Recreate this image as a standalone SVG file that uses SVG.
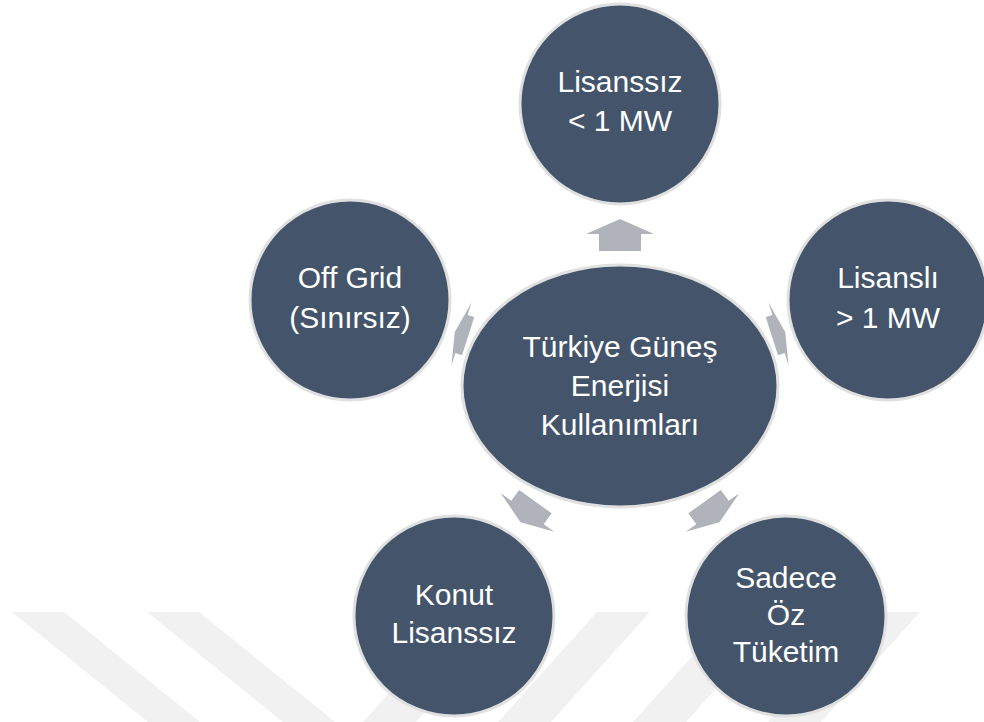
<svg xmlns="http://www.w3.org/2000/svg" width="984" height="722" viewBox="0 0 984 722">
<style>
.node{fill:#44546A;stroke:#E0E0E0;stroke-width:3}
.lbl{fill:#FFFFFF;font-family:"Liberation Sans",Arial,sans-serif;font-size:30px;text-anchor:middle}
.arw{fill:#B0B3BA}
.wm{fill:#F1F1F1}
</style>
<rect x="0" y="0" width="984" height="722" fill="#FFFFFF"/>
<g id="watermark">
<polygon class="wm" points="12,612 64,612 200,722 148,722"/>
<polygon class="wm" points="147,612 199,612 335,722 283,722"/>
<polygon class="wm" points="462,612 515,612 416,722 363,722"/>
<polygon class="wm" points="597,612 650,612 551,722 498,722"/>
<polygon class="wm" points="732,612 785,612 686,722 633,722"/>
<polygon class="wm" points="867,612 920,612 821,722 768,722"/>
</g>
<g id="connectors">
<polygon class="arw" points="599,251 599,234 586,234 620,219 654,234 641,234 641,251"/>
<polygon class="arw" points="765.7,317.1 772.4,315 768.4,302.6 785.2,331.9 788.6,365.4 784.6,353 778,355.2"/>
<polygon class="arw" points="474.3,317.1 467.6,315 471.6,302.6 454.8,331.9 451.4,365.4 455.4,353 462,355.2"/>
<polygon class="arw" points="519.2,489.9 511.3,500.8 500.7,493.2 520.5,522.2 554.3,531.8 543.7,524.2 551.6,513.3"/>
<polygon class="arw" points="720.8,489.9 728.7,500.8 739.3,493.2 719.5,522.2 685.7,531.8 696.3,524.2 688.4,513.3"/>
</g>
<g id="center">
<ellipse class="node" cx="620" cy="386" rx="158" ry="121"/>
<text class="lbl" x="620" y="357">Türkiye Güneş</text>
<text class="lbl" x="620" y="396">Enerjisi</text>
<text class="lbl" x="620" y="435">Kullanımları</text>
</g>
<g id="lisanssiz">
<circle class="node" cx="620" cy="104" r="100"/>
<text class="lbl" x="620" y="92">Lisanssız</text>
<text class="lbl" x="620" y="131">&lt; 1 MW</text>
</g>
<g id="lisansli">
<circle class="node" cx="888" cy="300" r="100"/>
<text class="lbl" x="888" y="288">Lisanslı</text>
<text class="lbl" x="888" y="328">&gt; 1 MW</text>
</g>
<g id="offgrid">
<circle class="node" cx="350" cy="300" r="100"/>
<text class="lbl" x="350" y="288">Off Grid</text>
<text class="lbl" x="350" y="328">(Sınırsız)</text>
</g>
<g id="konut">
<circle class="node" cx="454" cy="616" r="100"/>
<text class="lbl" x="454" y="605">Konut</text>
<text class="lbl" x="454" y="643">Lisanssız</text>
</g>
<g id="sadece">
<circle class="node" cx="786" cy="616" r="100"/>
<text class="lbl" x="786" y="588">Sadece</text>
<text class="lbl" x="786" y="625">Öz</text>
<text class="lbl" x="786" y="662">Tüketim</text>
</g>
</svg>
